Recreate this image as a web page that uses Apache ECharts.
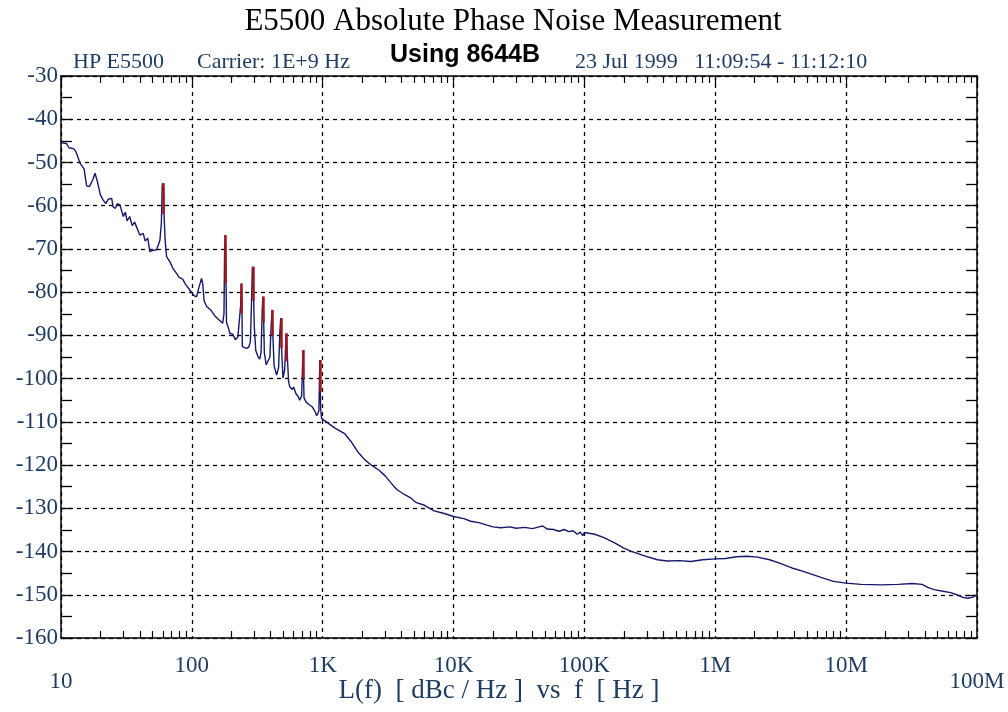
<html lang="en">
  <head>
    <meta charset="UTF-8" />
    <title>E5500 Absolute Phase Noise Measurement</title>
  </head>
  <body style="margin: 0; background: #fff">
    <div id="main" style="width: 1008px; height: 712px"></div>

    <script src="https://cdn.jsdelivr.net/npm/echarts@6/dist/echarts.min.js"></script>
    <script>
      // trace: offset frequency (Hz) and L(f) (dBc/Hz)
      const freqLow = [10, 11, 11.5, 12.5, 13, 14, 15, 15.7, 16.5, 17.5, 18.2, 19, 20, 21, 22, 23, 24.4, 25, 26, 27, 28.2, 29.9, 31, 32, 33.5, 35, 36.5, 37.8, 40, 42.5, 44, 46, 47.8, 50, 53.8, 57, 58.5, 59.3, 60, 60.7, 61.5, 62.5, 64.1, 68, 72, 76.1, 80, 85, 90, 96.6, 100, 104, 108.6, 113, 118.6, 121, 124, 129.8, 140, 150, 160, 172, 176, 178, 180, 182, 184, 190, 195, 205, 215, 225, 232, 236, 239, 241, 243, 250, 262, 272, 280, 286, 290, 294, 300, 308, 320, 330, 338, 345, 349, 353, 358, 370, 383, 395, 403, 411, 416, 425, 444, 460, 471, 478, 485, 497, 512, 523, 528, 535, 548, 560, 585, 600, 625, 650, 667, 690, 700, 707, 712, 720, 750, 794, 830, 870, 900, 935, 945, 950, 955, 965, 980]
      const levelLow = [-45.4, -45.6, -46.6, -46.8, -47.5, -50.2, -51.5, -55.4, -55.6, -54, -52.5, -54.5, -57.5, -58.7, -59.5, -58.5, -58.3, -60.3, -60.6, -59.5, -59.8, -62.5, -61.5, -63.5, -62.5, -64.6, -63.8, -64.9, -66.8, -66.4, -68.2, -67.5, -70.6, -70.4, -70.2, -68, -64, -55.5, -54.8, -55.8, -63, -68, -71.8, -73, -74.6, -75.6, -76.6, -77, -78.3, -79.5, -79.8, -80.8, -81.1, -79, -76.8, -78, -82, -83.3, -84.2, -85.5, -86.3, -87.2, -85, -70, -66.8, -74, -87, -88.2, -89.5, -89.7, -91, -90.3, -90.5, -83, -78, -81, -92.6, -92.3, -93, -92.7, -91.5, -82, -74.1, -76, -88, -93.5, -94.9, -95.5, -94, -84, -81, -85, -94, -96.8, -97.2, -95, -88, -84.1, -90, -97, -99.2, -97.5, -89, -86, -93, -99.9, -98, -91, -89.5, -94, -100.5, -101.9, -102.5, -102, -103.5, -104.2, -105, -104, -98, -93.4, -98, -104.5, -105.5, -106.1, -106.5, -107.5, -108.6, -107.5, -100, -95.7, -100, -107, -109.2]
      const freqHigh = [1e3, 1.1e3, 1.25e3, 1.48e3, 1.65e3, 1.87e3, 2.1e3, 2.4e3, 2.7e3, 3e3, 3.3e3, 3.66e3, 4.2e3, 4.7e3, 5.2e3, 6e3, 7.1e3, 8.5e3, 1e4, 1.2e4, 1.35e4, 1.56e4, 1.8e4, 2e4, 2.3e4, 2.7e4, 3e4, 3.5e4, 4e4, 4.5e4, 4.8e4, 5.2e4, 5.8e4, 6.4e4, 7e4, 7.6e4, 8.2e4, 8.8e4, 9.3e4, 9.7e4, 1e5, 1.2e5, 1.41e5, 1.7e5, 2e5, 2.26e5, 2.8e5, 3.61e5, 4.3e5, 5.34e5, 6.5e5, 8e5, 1e6, 1.2e6, 1.45e6, 1.75e6, 2.1e6, 2.6e6, 3.1e6, 3.85e6, 4.7e6, 5.5e6, 6.6e6, 8e6, 1e7, 1.3e7, 1.85e7, 2.5e7, 3.2e7, 3.8e7, 4.2e7, 4.7e7, 5.5e7, 6.3e7, 7e7, 7.8e7, 8.5e7, 9.2e7, 1e8]
      const levelHigh = [-109.6, -110.3, -111.5, -112.8, -114.6, -117.1, -118.8, -120.2, -121.2, -122.5, -124, -125.6, -126.8, -127.6, -128.7, -129.3, -130.6, -131.2, -131.9, -132.4, -133, -133.3, -133.9, -134.3, -134.5, -134.3, -134.6, -134.4, -134.7, -134.3, -134.1, -134.8, -134.9, -135.3, -134.9, -135.4, -135.2, -136, -135.5, -136.3, -135.6, -136, -136.8, -138, -139.2, -139.9, -140.9, -141.9, -142.2, -142.1, -142.3, -141.9, -141.7, -141.6, -141.2, -141.1, -141.3, -141.9, -142.7, -143.8, -144.6, -145.3, -146.1, -146.9, -147.3, -147.6, -147.7, -147.6, -147.4, -147.6, -148.3, -148.8, -149.2, -149.5, -150, -150.6, -150.8, -150.6, -150]

      // spurs (red tops): frequency, peak level, level where red ends
      const spurFreq = [60, 180, 239, 292, 349, 411, 478, 528, 707, 950]
      const spurPeak = [-54.8, -66.8, -78, -74.1, -81, -84.1, -86, -89.5, -93.4, -95.7]
      const spurMid = [-62, -78, -85, -82, -87, -90, -93, -96, -100, -103]

      const decadeLabels = { 10: '10', 100: '100', 1000: '1K', 10000: '10K', 100000: '100K', 1000000: '1M', 10000000: '10M', 100000000: '100M' }

      const trace = freqLow.map((f, i) => [f, levelLow[i]]).concat(freqHigh.map((f, i) => [f, levelHigh[i]]))
      const spurs = spurFreq.map((f, i) => ({ coords: [[f, spurPeak[i]], [f, spurMid[i]]] }))

      const minorVals = []
      for (let d = 10; d < 1e8; d *= 10) {
        for (let m = 2; m <= 9; m++) minorVals.push(d * m)
      }

      const serif = 'Liberation Serif'
      const blue = '#1f3d62'
      const frame = { show: true, lineStyle: { color: '#000', width: 1.5 } }

      const minorAxis = (pos) => ({
        type: 'log', logBase: 10, min: 10, max: 1e8, position: pos,
        axisLine: { show: false },
        axisLabel: { show: false },
        splitLine: { show: false },
        axisTick: { show: true, inside: true, length: 7, customValues: minorVals, lineStyle: { color: '#000', width: 1.2 } }
      })

      let mCharts = echarts.init(document.querySelector('#main'))
      let option = {
        backgroundColor: '#fff',
        animation: false,
        grid: { left: 61, right: 31, top: 76, bottom: 74 },
        xAxis: [
          {
            type: 'log', logBase: 10, min: 10, max: 1e8, interval: 1, position: 'bottom',
            axisLine: frame,
            axisTick: { show: false },
            axisLabel: {
              margin: 16,
              color: blue,
              fontFamily: serif,
              fontSize: 23,
              formatter: (v) => {
                const s = decadeLabels[Math.round(v)] || ''
                return v < 20 || v > 5e7 ? '{low|' + s + '}' : s
              },
              rich: { low: { fontFamily: serif, fontSize: 23, color: blue, padding: [16, 0, 0, 0] } }
            },
            splitLine: { show: true, lineStyle: { color: '#000', width: 1.3, type: [4, 4] } }
          },
          {
            type: 'log', logBase: 10, min: 10, max: 1e8, interval: 1, position: 'top',
            axisLine: frame,
            axisTick: { show: true, inside: true, length: 10, lineStyle: { color: '#000', width: 1.2 } },
            axisLabel: { show: false },
            splitLine: { show: false }
          },
          minorAxis('bottom'),
          minorAxis('top')
        ],
        yAxis: [
          {
            type: 'value', min: -160, max: -30, interval: 10, position: 'left',
            axisLine: frame,
            axisTick: { show: true, inside: true, length: 11, lineStyle: { color: '#000', width: 1.3 } },
            minorTick: { show: true, splitNumber: 2, length: 11, lineStyle: { color: '#000', width: 1.3 } },
            axisLabel: { margin: 3, color: blue, fontFamily: serif, fontSize: 23 },
            splitLine: { show: true, lineStyle: { color: '#000', width: 1.3, type: [4, 4] } }
          },
          {
            type: 'value', min: -160, max: -30, interval: 10, position: 'right',
            axisLine: frame,
            axisTick: { show: true, inside: true, length: 11, lineStyle: { color: '#000', width: 1.3 } },
            minorTick: { show: true, splitNumber: 2, length: 11, lineStyle: { color: '#000', width: 1.3 } },
            axisLabel: { show: false },
            splitLine: { show: false }
          }
        ],
        series: [
          {
            type: 'line',
            data: trace,
            showSymbol: false,
            lineStyle: { color: '#16196b', width: 1.4 },
            z: 3
          },
          {
            type: 'lines',
            coordinateSystem: 'cartesian2d',
            data: spurs,
            lineStyle: { color: '#a3161c', width: 2.5, opacity: 1 },
            z: 4
          }
        ],
        graphic: [
          { type: 'text', x: 513, y: 6, style: { text: 'E5500 Absolute Phase Noise Measurement', font: '31px "Liberation Serif"', fill: '#000', align: 'center' } },
          { type: 'text', left: 73, top: 51, style: { text: 'HP E5500', font: '22px "Liberation Serif"', fill: blue } },
          { type: 'text', left: 197, top: 51, style: { text: 'Carrier: 1E+9 Hz', font: '22px "Liberation Serif"', fill: blue } },
          { type: 'text', left: 390, top: 43, style: { text: 'Using 8644B', font: 'bold 25px "Liberation Sans"', fill: '#000' } },
          { type: 'text', left: 575, top: 51, style: { text: '23 Jul 1999   11:09:54 - 11:12:10', font: '22px "Liberation Serif"', fill: blue } },
          { type: 'text', x: 499, y: 677, style: { text: 'L(f)  [ dBc / Hz ]  vs  f  [ Hz ]', font: '27px "Liberation Serif"', fill: blue, align: 'center' } }
        ]
      }
      mCharts.setOption(option)
    </script>
  </body>
</html>
